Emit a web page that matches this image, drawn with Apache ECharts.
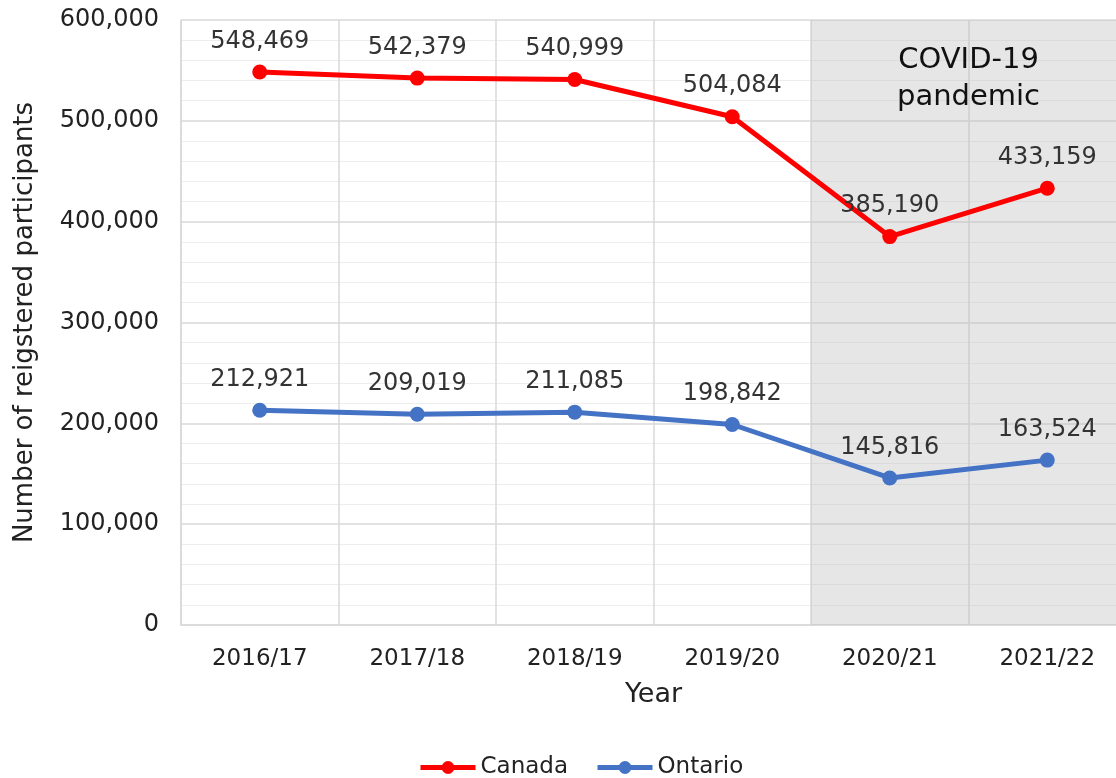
<html>
  <head>
    <meta charset="utf-8" />
    <title>Registered participants</title>
    <script type="text/javascript" src="https://cdn.jsdelivr.net/npm/echarts@6/dist/echarts.min.js"></script>
    <style>
      html, body { margin: 0; padding: 0; background: #fff; overflow: hidden; }
    </style>
  </head>
  <body>
      <div id="main" style="width:1116px;height:778px;"></div>
      <script type="text/javascript">
        var years = ['2016/17', '2017/18', '2018/19', '2019/20', '2020/21', '2021/22'];
        var canada = [548469, 542379, 540999, 504084, 385190, 433159];
        var ontario = [212921, 209019, 211085, 198842, 145816, 163524];
        var pandemicRange = [4, 6]; // category slots covered by the shading
        var pandemicText = 'COVID-19\npandemic';

        var fmt = v => Number(v).toLocaleString('en-US');
        var font = 'DejaVu Sans, Verdana, sans-serif';

        var myChart = echarts.init(document.getElementById('main'));

        var option = {
          animation: false,
          textStyle: { fontFamily: font },
          // the original plot runs a little past the right edge of the picture
          grid: { left: 181, right: -10, top: 20, bottom: 153, outerBoundsMode: 'none' },
          legend: {
              top: 751,
              left: 413,
              itemWidth: 55,
              itemHeight: 16,
              itemGap: 27,
              lineStyle: { width: 5 },
              textStyle: { fontSize: 23, color: '#222', fontFamily: font },
              data: ['Canada', 'Ontario'],
          },
          xAxis: [
            {
              type: 'category',
              data: years,
              name: 'Year',
              nameLocation: 'middle',
              nameGap: 56,
              nameTextStyle: { fontSize: 27, color: '#222' },
              axisLine: { lineStyle: { color: '#d9d9d9', width: 1.5 } },
              axisTick: { show: false },
              axisLabel: { fontSize: 23, color: '#222', margin: 23 },
              splitLine: { show: true, lineStyle: { color: '#d9d9d9', width: 1.5 } },
            },
            {
              type: 'value',
              min: 0,
              max: 6,
              show: false,
            }
          ],
          yAxis: {
              type: 'value',
              min: 0,
              max: 600000,
              interval: 100000,
              name: 'Number of reigstered participants',
              nameLocation: 'middle',
              nameGap: 143,
              nameTextStyle: { fontSize: 26, color: '#222' },
              axisLine: { show: true, lineStyle: { color: '#d9d9d9', width: 1.5 } },
              axisTick: { show: false },
              axisLabel: { fontSize: 24, color: '#222', margin: 22, formatter: fmt },
              splitLine: { lineStyle: { color: '#d9d9d9', width: 1.5 } },
              minorTick: { show: false, splitNumber: 5 },
              minorSplitLine: { show: true, lineStyle: { color: '#ededed', width: 1 } },
          },
          series: [
            {
              name: 'pandemic',
              type: 'line',
              xAxisIndex: 1,
              data: [],
              silent: true,
              markArea: {
                  silent: true,
                  itemStyle: { color: 'rgba(190, 190, 190, 0.38)' },
                  label: {
                      position: 'insideTop',
                      distance: 22,
                      fontSize: 29,
                      lineHeight: 37,
                      color: '#111',
                      fontFamily: font,
                  },
                  data: [[
                      { xAxis: pandemicRange[0], name: pandemicText },
                      { xAxis: pandemicRange[1] },
                  ]],
              },
            },
            {
              name: 'Canada',
              type: 'line',
              data: canada,
              symbol: 'circle',
              symbolSize: 15,
              z: 5,
              lineStyle: { color: '#ff0000', width: 5 },
              itemStyle: { color: '#ff0000' },
              label: {
                  show: true,
                  position: 'top',
                  distance: 11,
                  fontSize: 24,
                  color: '#333',
                  formatter: p => fmt(p.value),
              },
            },
            {
              name: 'Ontario',
              type: 'line',
              data: ontario,
              symbol: 'circle',
              symbolSize: 15,
              z: 5,
              lineStyle: { color: '#4472c4', width: 5 },
              itemStyle: { color: '#4472c4' },
              label: {
                  show: true,
                  position: 'top',
                  distance: 11,
                  fontSize: 24,
                  color: '#333',
                  formatter: p => fmt(p.value),
              },
            }
          ]
        };
        myChart.setOption(option);
      </script>
  </body>
</html>
